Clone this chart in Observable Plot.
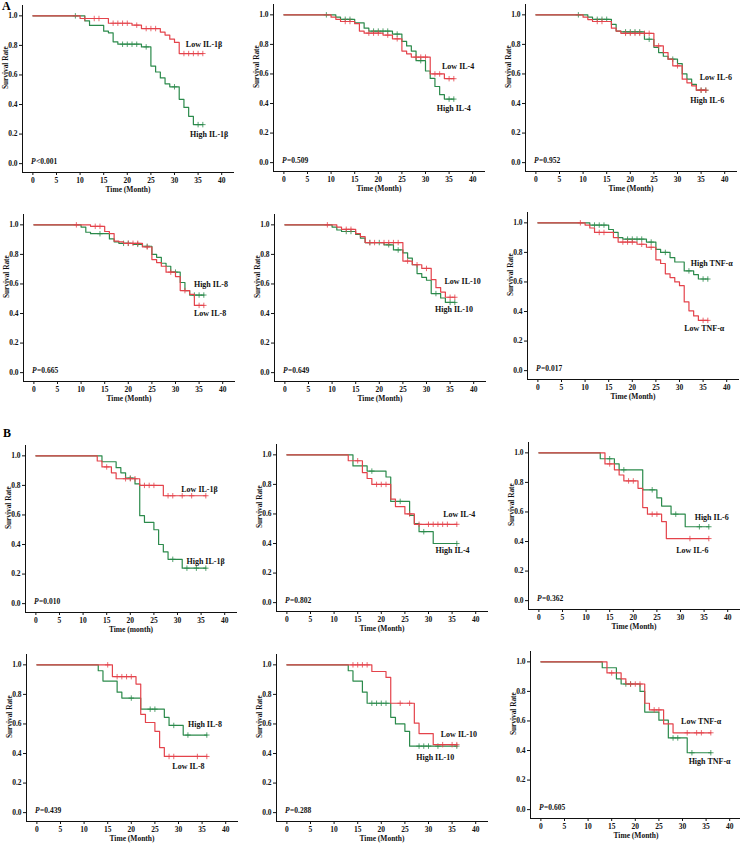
<!DOCTYPE html>
<html><head><meta charset="utf-8">
<script src="https://cdn.jsdelivr.net/npm/d3@7"></script>
<script src="https://cdn.jsdelivr.net/npm/@observablehq/plot@0.6"></script>
<style>
body{margin:0;background:#fff;}
#fig{position:relative;width:740px;height:843px;overflow:hidden;font-family:'Liberation Serif','Times New Roman',serif;}
.panel{position:absolute;}
.tag{position:absolute;font-weight:bold;font-size:12px;line-height:12px;}
</style></head><body>
<div id="fig"><div class="tag" style="left:2px;top:0px">A</div><div class="tag" style="left:3px;top:427px">B</div></div>
<script>
// ---- data: [time (month), survival rate after the step] ----
const A1_low  = [[0,1],[10,.982],[16,.95],[21,.937],[23,.914],[27,.89],[28,.87],[29,.842],[30,.82],[31,.745]];
const A1_lowC = [11,13,14,17,18,19,20,22,24,25,26,32,33,34,35,36];
const A1_high = [[0,1],[11,.966],[12,.935],[15,.896],[16,.885],[17,.824],[18,.808],[23,.79],[25,.66],[26,.62],[27,.58],[28,.54],[29,.52],[31,.435],[32,.38],[33,.32],[34,.264]];
const A1_highC = [9,19,20,21,22,24,30,35,36];

const A2_low  = [[0,1],[10,.984],[11,.97],[12,.955],[15,.94],[16,.89],[17,.876],[21,.863],[23,.838],[25,.755],[26,.736],[27,.714],[31,.60],[34,.568]];
const A2_lowC = [13,14,18,19,20,22,24,28,29,30,32,33,35,36];
const A2_high = [[0,1],[11,.984],[12,.97],[15,.945],[17,.91],[18,.89],[23,.87],[25,.82],[26,.79],[27,.755],[28,.69],[30,.62],[31,.57],[32,.515],[33,.46],[34,.43]];
const A2_highC = [9,13,14,19,20,21,22,24,29,35,36];

const A3_low  = [[0,1],[10,.984],[11,.968],[12,.955],[16,.91],[17,.89],[18,.875],[25,.79],[27,.745],[28,.70],[29,.655],[31,.565],[32,.54],[33,.52],[34,.49]];
const A3_lowC = [13,14,19,20,21,22,23,24,26,30,35,36];
const A3_high = [[0,1],[11,.984],[12,.97],[16,.935],[17,.89],[18,.885],[23,.835],[25,.78],[26,.745],[27,.72],[28,.70],[30,.67],[31,.60],[32,.565],[33,.53],[34,.49]];
const A3_highC = [9,13,14,15,19,20,21,22,24,29,35,36];

const A4_low  = [[0,1],[12,.99],[15,.955],[16,.94],[17,.89],[18,.885],[19,.875],[23,.85],[25,.765],[26,.745],[27,.72],[28,.68],[30,.65],[31,.555],[33,.53],[34,.455]];
const A4_lowC = [9,13,14,20,21,22,24,29,32,35,36];
const A4_high = [[0,1],[10,.985],[11,.95],[12,.94],[16,.905],[17,.885],[18,.875],[21,.868],[23,.855],[25,.80],[26,.78],[27,.74],[28,.72],[29,.68],[31,.61],[32,.555],[33,.525]];
const A4_highC = [14,19,20,22,24,30,34,35,36];

const A5_low  = [[0,1],[11,.985],[12,.97],[15,.94],[16,.92],[17,.88],[25,.755],[27,.73],[29,.705],[31,.63],[32,.575],[33,.545],[34,.51]];
const A5_lowC = [9,13,14,18,19,21,22,23,24,26,28,30,35,36];
const A5_high = [[0,1],[10,.985],[11,.965],[12,.955],[15,.935],[16,.91],[17,.88],[21,.865],[23,.83],[25,.81],[26,.775],[27,.73],[28,.67],[29,.645],[30,.625],[31,.535],[33,.505],[34,.475]];
const A5_highC = [13,14,18,20,22,24,32,35,36];

const A6_low  = [[0,1],[10,.985],[11,.965],[12,.935],[16,.90],[17,.87],[21,.855],[23,.835],[25,.75],[26,.725],[27,.655],[28,.63],[29,.60],[30,.575],[31,.465],[32,.405],[33,.37],[34,.34]];
const A6_lowC = [9,13,14,18,19,20,22,24,35,36];
const A6_high = [[0,1],[11,.985],[15,.955],[16,.935],[17,.90],[18,.89],[23,.87],[25,.82],[26,.80],[28,.765],[29,.735],[31,.675],[33,.65],[34,.62]];
const A6_highC = [12,13,14,19,20,21,22,24,27,32,35,36];

const B1_low  = [[0,1],[13,.965],[14,.925],[16,.885],[17,.845],[22,.80],[27,.73]];
const B1_lowC = [15,19,20,21,23,24,25,28,29,31,33,36];
const B1_high = [[0,1],[14,.96],[17,.92],[18,.885],[19,.85],[21,.81],[22,.595],[23,.55],[25,.50],[26,.40],[27,.35],[28,.30],[31,.24]];
const B1_highC = [20,29,32,34,36];

const B2_low  = [[0,1],[13,.96],[16,.88],[17,.84],[18,.80],[22,.70],[23,.65],[25,.60],[27,.53]];
const B2_lowC = [15,19,20,21,26,28,30,31,32,33,34,36];
const B2_high = [[0,1],[14,.925],[17,.89],[21,.85],[22,.685],[26,.59],[27,.535],[28,.48],[31,.40]];
const B2_highC = [18,24,29,36];

const B3_low  = [[0,1],[14,.925],[16,.885],[17,.85],[18,.81],[21,.76],[22,.63],[23,.585],[26,.535],[27,.42]];
const B3_lowC = [15,19,20,24,25,32,36];
const B3_high = [[0,1],[13,.96],[16,.925],[17,.885],[22,.75],[25,.695],[26,.64],[28,.585],[31,.50]];
const B3_highC = [15,18,24,29,34,36];

const B4_low  = [[0,1],[16,.92],[21,.87],[22,.665],[23,.61],[25,.55],[26,.44],[27,.38]];
const B4_lowC = [15,17,18,19,20,28,29,34,36];
const B4_high = [[0,1],[13,.96],[14,.89],[17,.815],[18,.775],[22,.70],[27,.645],[28,.59],[31,.525]];
const B4_highC = [20,24,25,29,32,36];

const B5_low  = [[0,1],[18,.955],[21,.915],[22,.74],[27,.605],[28,.535],[31,.46]];
const B5_lowC = [14,15,16,17,24,26,33,35,36];
const B5_high = [[0,1],[13,.96],[14,.89],[16,.815],[17,.74],[22,.645],[23,.60],[25,.55],[26,.45]];
const B5_highC = [18,19,20,21,28,29,30,32,36];

const B6_low  = [[0,1],[14,.925],[17,.885],[18,.85],[22,.72],[23,.675],[26,.58],[28,.52]];
const B6_lowC = [15,19,20,21,24,25,31,33,34,36];
const B6_high = [[0,1],[13,.96],[16,.885],[17,.85],[21,.80],[22,.66],[25,.605],[27,.485],[31,.385]];
const B6_highC = [18,19,28,29,32,36];

const cytokines = ["IL-1β","IL-4","IL-6","IL-8","IL-10","TNF-α","IL-1β","IL-4","IL-6","IL-8","IL-10","TNF-α"];
const pValues = ["<0.001","=0.509","=0.952","=0.665","=0.649","=0.017","=0.010","=0.802","=0.362","=0.439","=0.288","=0.605"];
const xLabels = ["Time (Month)","Time (Month)","Time (Month)","Time (Month)","Time (Month)","Time (Month)","Time (month)","Time (Month)","Time (Month)","Time (Month)","Time (Month)","Time (Month)"];
const lowLabelAt  = [[32.4,.806],[33.5,.653],[34.7,.578],[33.9,.40],[33.8,.618],[31,.288],[30.8,.776],[33.1,.597],[29.1,.337],[28.7,.31],[32.6,.53],[29.7,.595]];
const highLabelAt = [[33.3,.196],[32.4,.37],[32.7,.422],[33.9,.595],[31.8,.427],[32.4,.725],[31.9,.288],[31.5,.353],[33,.562],[32,.596],[27.4,.373],[31.3,.324]];
const xTicks = [0,5,10,15,20,25,30,35,40];
const yTicks = [0,0.2,0.4,0.6,0.8,1.0];
const END = 36;

const curves = [
  [A1_low,A1_lowC,A1_high,A1_highC],[A2_low,A2_lowC,A2_high,A2_highC],[A3_low,A3_lowC,A3_high,A3_highC],
  [A4_low,A4_lowC,A4_high,A4_highC],[A5_low,A5_lowC,A5_high,A5_highC],[A6_low,A6_lowC,A6_high,A6_highC],
  [B1_low,B1_lowC,B1_high,B1_highC],[B2_low,B2_lowC,B2_high,B2_highC],[B3_low,B3_lowC,B3_high,B3_highC],
  [B4_low,B4_lowC,B4_high,B4_highC],[B5_low,B5_lowC,B5_high,B5_highC],[B6_low,B6_lowC,B6_high,B6_highC]
];

// ---- layout ----
const RED = "#e4434b", GREEN = "#2b8a4b";
const FONT = "'Liberation Serif','Times New Roman',serif";
const XMIN = -2.2, XMAX = 42.5, YMIN = -0.06, YMAX = 1.07, KX = 4.72, KY = 148;
const ML = 26, MR = 6, MT = 6, MB = 30;
const W = Math.round(ML + (XMAX - XMIN) * KX + MR);
const H = Math.round(MT + (YMAX - YMIN) * KY + MB);
// pixel of time 0 / survival 0 for each panel in the figure
const origin = [[32,163],[283,162],[535,162],[33,372],[284,372],[537,370],[35,603],[286,602],[538,600],[36,812],[286,812],[540,809]];

function steps(pts) {
  const d = pts.map(([t, s]) => ({t, s}));
  d.push({t: END, s: pts[pts.length - 1][1]});
  return d;
}
function censor(pts, times) {
  return times.map(t => {
    let s = 1;
    for (const [tt, ss] of pts) if (tt <= t) s = ss;
    return {t, s};
  });
}

const fig = document.getElementById("fig");
curves.forEach(([low, lowC, high, highC], i) => {
  const name = cytokines[i];
  const marks = [
    Plot.line(steps(high), {x: "t", y: "s", curve: "step-after", stroke: GREEN, strokeWidth: 1.2}),
    Plot.dot(censor(high, highC), {x: "t", y: "s", symbol: "plus", r: 1.9, stroke: GREEN, strokeWidth: 0.8}),
    Plot.line(steps(low), {x: "t", y: "s", curve: "step-after", stroke: RED, strokeWidth: 1.2}),
    Plot.dot(censor(low, lowC), {x: "t", y: "s", symbol: "plus", r: 1.9, stroke: RED, strokeWidth: 0.8}),
    Plot.text([{x: lowLabelAt[i][0], y: lowLabelAt[i][1], label: "Low " + name}], {x: "x", y: "y", text: "label", textAnchor: "start", fontSize: 8}),
    Plot.text([{x: highLabelAt[i][0], y: highLabelAt[i][1], label: "High " + name}], {x: "x", y: "y", text: "label", textAnchor: "start", fontSize: 8}),
    Plot.text([{x: -0.4, y: 0.015, label: "P"}], {x: "x", y: "y", text: "label", textAnchor: "start", fontStyle: "italic", fontSize: 7.5}),
    Plot.text([{x: -0.4, y: 0.015, label: pValues[i]}], {x: "x", y: "y", text: "label", textAnchor: "start", dx: 5, fontSize: 7.5}),
    Plot.text([xLabels[i]], {frameAnchor: "bottom", dy: 19, fontSize: 7.5}),
    Plot.text(["Survival Rate"], {frameAnchor: "left", dx: -16.5, rotate: -90, fontSize: 7.3})
  ];
  const svg = Plot.plot({
    width: W, height: H,
    marginLeft: ML, marginRight: MR, marginTop: MT, marginBottom: MB,
    style: {fontFamily: FONT, fontWeight: "bold", fontSize: "7.5px", background: "none", maxWidth: "none", color: "#111"},
    x: {domain: [XMIN, XMAX], ticks: xTicks, tickSize: 3, tickPadding: 2, line: true, label: null},
    y: {domain: [YMIN, YMAX], ticks: yTicks, tickFormat: d3.format(".1f"), tickSize: 3, tickPadding: 2, line: true, label: null},
    marks
  });
  const div = document.createElement("div");
  div.className = "panel";
  const [x0, y0] = origin[i];
  div.style.left = (x0 - ML + XMIN * KX) + "px";
  div.style.top = (y0 - MT - YMAX * KY) + "px";
  div.style.width = W + "px";
  div.style.height = H + "px";
  div.appendChild(svg);
  fig.appendChild(div);
});
</script>
</body></html>
